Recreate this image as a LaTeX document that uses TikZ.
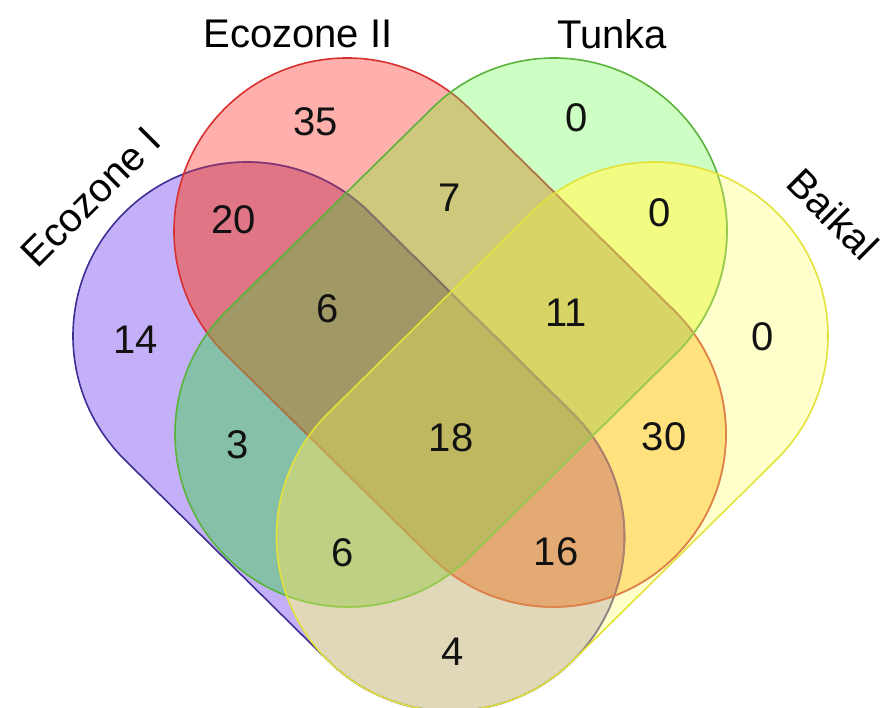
\documentclass[tikz,border=0pt]{standalone}
\usepackage{fontspec}
\setmainfont{Liberation Sans}

% fills of the fifteen regions (P = Ecozone I, R = Ecozone II, G = Tunka, Y = Baikal)
\definecolor{cP}{HTML}{C4B0F8}
\definecolor{cR}{HTML}{FFB0AC}
\definecolor{cG}{HTML}{CDFEC3}
\definecolor{cY}{HTML}{FFFFCC}
\definecolor{cPR}{HTML}{E07585}
\definecolor{cPG}{HTML}{86C0A8}
\definecolor{cPY}{HTML}{E0D8B8}
\definecolor{cRG}{HTML}{CEC87C}
\definecolor{cRY}{HTML}{FFE17E}
\definecolor{cGY}{HTML}{F2FB82}
\definecolor{cPRG}{HTML}{A09865}
\definecolor{cPRY}{HTML}{E3AB73}
\definecolor{cPGY}{HTML}{BED084}
\definecolor{cRGY}{HTML}{D8D566}
\definecolor{cPRGY}{HTML}{BFB860}
% outlines and the tints laid over them by later sets
\definecolor{lineP}{HTML}{3F2F95}
\definecolor{lineR}{HTML}{D8302F}
\definecolor{lineG}{HTML}{5AB43C}
\definecolor{lineY}{HTML}{E2E23A}
\definecolor{tintR}{HTML}{DC3C46}
\definecolor{tintG}{HTML}{78C85A}
\definecolor{tintY}{HTML}{E6E664}

% capsule: cap centres #1 and #2, cap normal angle #3, radius #4
\newcommand\capsulepath[4]{([shift={(#3:#4)}]#1) arc[start angle=#3, delta angle=180, radius=#4] -- ([shift={(#3+180:#4)}]#2) arc[start angle=#3+180, delta angle=180, radius=#4] -- cycle}
\def\pathP{\capsulepath{247,372}{450.5,171}{45}{174}}
\def\pathR{\capsulepath{347,477}{553,274}{45}{173}}
\def\pathG{\capsulepath{554,477}{348,274}{-45}{173}}
\def\pathY{\capsulepath{654,372}{450.5,171}{-45}{174}}

\tikzset{
  setline/.style={line width=1.6pt},
  setlabel/.style={inner sep=0pt, font=\fontsize{40}{48}\selectfont, text=black},
  count/.style={inner sep=0pt, font=\fontsize{40}{48}\selectfont, text=black!93}
}

\begin{document}
\begin{tikzpicture}[x=1pt,y=1pt]
\useasboundingbox (0,0) rectangle (882,708);
\begin{scope}
\clip (0,0) rectangle (882,708);

% single sets
\fill[cP] \pathP;
\fill[cR] \pathR;
\fill[cG] \pathG;
\fill[cY] \pathY;

% pairs
\begin{scope}\clip \pathP; \fill[cPR] \pathR; \end{scope}
\begin{scope}\clip \pathP; \fill[cPG] \pathG; \end{scope}
\begin{scope}\clip \pathP; \fill[cPY] \pathY; \end{scope}
\begin{scope}\clip \pathR; \fill[cRG] \pathG; \end{scope}
\begin{scope}\clip \pathR; \fill[cRY] \pathY; \end{scope}
\begin{scope}\clip \pathG; \fill[cGY] \pathY; \end{scope}

% triples
\begin{scope}\clip \pathP; \clip \pathR; \fill[cPRG] \pathG; \end{scope}
\begin{scope}\clip \pathP; \clip \pathR; \fill[cPRY] \pathY; \end{scope}
\begin{scope}\clip \pathP; \clip \pathG; \fill[cPGY] \pathY; \end{scope}
\begin{scope}\clip \pathR; \clip \pathG; \fill[cRGY] \pathY; \end{scope}

% all four
\begin{scope}\clip \pathP; \clip \pathR; \clip \pathG; \fill[cPRGY] \pathY; \end{scope}

% outlines, each dimmed where later sets lie over it
\draw[setline, lineP] \pathP;
\begin{scope}\clip \pathR; \draw[setline, tintR, draw opacity=.45] \pathP; \end{scope}
\begin{scope}\clip \pathG; \draw[setline, tintG, draw opacity=.45] \pathP; \end{scope}
\begin{scope}\clip \pathY; \draw[setline, tintY, draw opacity=.45] \pathP; \end{scope}

\draw[setline, lineR] \pathR;
\begin{scope}\clip \pathG; \draw[setline, tintG, draw opacity=.45] \pathR; \end{scope}
\begin{scope}\clip \pathY; \draw[setline, tintY, draw opacity=.45] \pathR; \end{scope}

\draw[setline, lineG] \pathG;
\begin{scope}\clip \pathY; \draw[setline, tintY, draw opacity=.45] \pathG; \end{scope}

\draw[setline, lineY] \pathY;
\end{scope}

% set names
\node[setlabel, rotate=45]  (nameP) at (91,511)  {Ecozone I};
\node[setlabel]             (nameR) at (298,674) {Ecozone II};
\node[setlabel]             (nameG) at (612,674) {Tunka};
\node[setlabel, rotate=-45] (nameY) at (833,494) {Baikal};

% region counts
\node[count] (nR)    at (316,586) {35};
\node[count] (nG)    at (577,590) {0};
\node[count] (nPR)   at (234,488) {20};
\node[count] (nRG)   at (450,510) {7};
\node[count] (nGY)   at (660,495) {0};
\node[count] (nP)    at (136,368) {14};
\node[count] (nPRG)  at (328,399) {6};
\node[count] (nRGY)  at (566,395) {11};
\node[count] (nY)    at (763,371) {0};
\node[count] (nPG)   at (238,263) {3};
\node[count] (nPRGY) at (451,270) {18};
\node[count] (nRY)   at (664,271) {30};
\node[count] (nPGY)  at (343,155) {6};
\node[count] (nPRY)  at (556,156) {16};
\node[count] (nPY)   at (453,56)  {4};
\end{tikzpicture}
\end{document}
